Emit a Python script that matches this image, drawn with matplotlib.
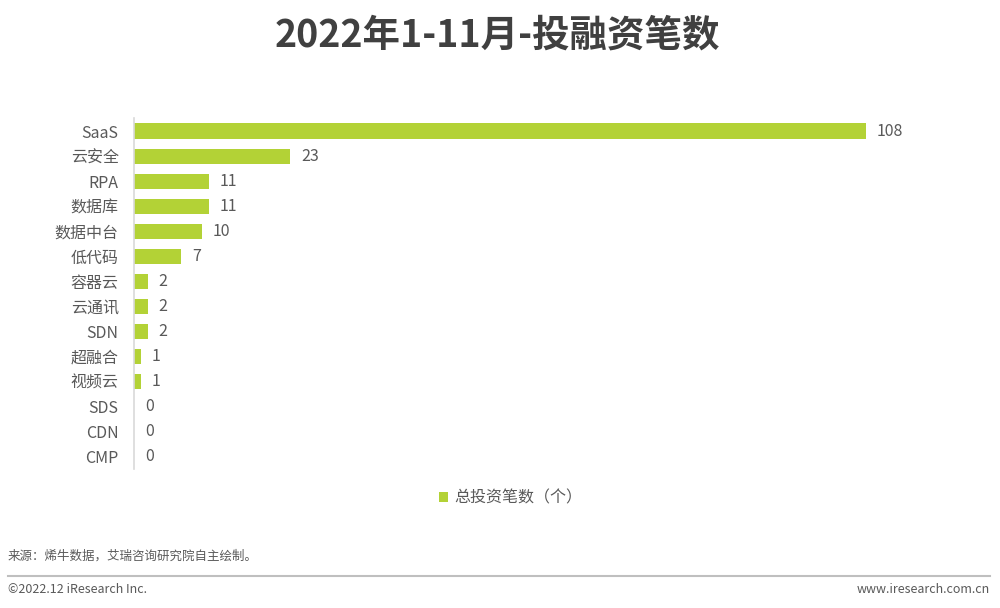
import matplotlib
matplotlib.use("Agg")
import matplotlib.pyplot as plt

plt.rcParams['font.family'] = ['Noto Sans CJK SC', 'DejaVu Sans']

categories = ["SaaS", "云安全", "RPA", "数据库", "数据中台", "低代码", "容器云", "云通讯",
              "SDN", "超融合", "视频云", "SDS", "CDN", "CMP"]
values = [108, 23, 11, 11, 10, 7, 2, 2, 2, 1, 1, 0, 0, 0]
series_name = "总投资笔数（个）"
title = "2022年1-11月-投融资笔数"
source = "来源：烯牛数据，艾瑞咨询研究院自主绘制。"
footer_left = "©2022.12 iResearch Inc."
footer_right = "www.iresearch.com.cn"

green = "#b3d236"
grey = "#595959"

fig = plt.figure(figsize=(10, 6.08), dpi=100)
ax = fig.add_axes([0.134, 0.2294, 0.813, 0.5757])

y = list(range(len(categories)))
bars = ax.barh(y, values, height=0.6, color=green, label=series_name)
ax.set_ylim(len(categories) - 0.5, -0.5)
ax.set_xlim(0, 120)
ax.set_yticks(y)
ax.set_yticklabels(categories, fontsize=11.5, color=grey)
ax.tick_params(axis='y', length=0, pad=11)
ax.set_xticks([])
for s in ['top', 'right', 'bottom']:
    ax.spines[s].set_visible(False)
ax.spines['left'].set_color('#d9d9d9')
ax.spines['left'].set_linewidth(1.2)

for yi, v in zip(y, values):
    ax.annotate(str(v), xy=(v, yi), xytext=(8, 0), textcoords='offset points',
                va='center', ha='left', fontsize=11.5, color=grey)

fig.text(0.497, 0.942, title, ha='center', va='center', fontsize=27,
         fontweight='bold', color='#404040')

leg = fig.legend(handles=[bars], labels=[series_name], loc='center',
                 bbox_to_anchor=(0.511, 0.181), frameon=False, fontsize=11.5,
                 handlelength=0.55, handleheight=0.55, handletextpad=0.4)
for t in leg.get_texts():
    t.set_color(grey)

fig.text(0.008, 0.086, source, ha='left', va='center', fontsize=9, color=grey)
fig.add_artist(plt.Line2D([0.008, 0.99], [0.053, 0.053], transform=fig.transFigure,
                          color='#bfbfbf', linewidth=1.5))
fig.text(0.008, 0.031, footer_left, ha='left', va='center', fontsize=9, color=grey)
fig.text(0.99, 0.031, footer_right, ha='right', va='center', fontsize=9, color=grey)

fig.savefig("out.png", dpi=100)
